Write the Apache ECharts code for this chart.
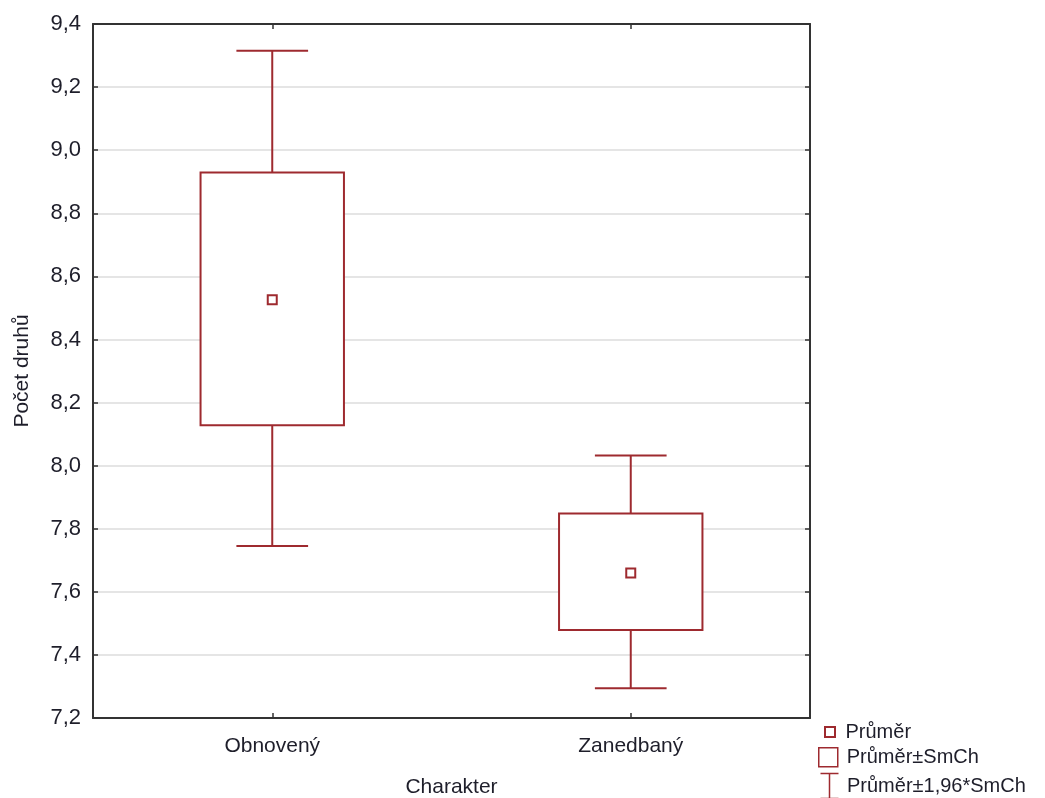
<!DOCTYPE html>
<html>
<head>
<meta charset="utf-8">
<script src="https://cdn.jsdelivr.net/npm/echarts@6/dist/echarts.min.js"></script>
<style>html,body{margin:0;padding:0;background:#fff}#c{width:1045px;height:798px}</style>
</head>
<body>
<div id="c"></div>
<script>
var categories = ['Obnovený', 'Zanedbaný'];
var meanValues = [8.526, 7.660];
var seLow = [8.128, 7.479];
var seHigh = [8.929, 7.848];
var ciLow = [7.745, 7.294];
var ciHigh = [9.315, 8.032];

var RED = '#9e2a2f';
var TXT = '#1e1e2a';
var FONT = 'Liberation Sans, Arial, sans-serif';

var chart = echarts.init(document.getElementById('c'));

var boxData = categories.map(function (c, i) { return [i, seLow[i], seHigh[i]]; });
var whiskerData = categories.map(function (c, i) { return [i, ciLow[i], ciHigh[i], seLow[i], seHigh[i]]; });
var meanData = categories.map(function (c, i) { return [i, meanValues[i]]; });

function fmtY(v) { return v.toFixed(1).replace('.', ','); }

var legText = { fontSize: 20, color: TXT, fontFamily: FONT };

var option = {
  animation: false,
  backgroundColor: '#fff',
  grid: { left: 93, right: 235, top: 24, bottom: 80, show: false, outerBoundsMode: 'none', containLabel: false },
  legend: [
    { data: ['Průměr'], orient: 'vertical', left: 824, top: 722, padding: 0, itemWidth: 21, itemHeight: 10, itemGap: 0,
      icon: 'path://M0,0H10V10H0Z', textStyle: legText,
      itemStyle: { color: '#fff', borderColor: RED, borderWidth: 2 } },
    { data: ['Průměr±SmCh'], orient: 'vertical', left: 818, top: 747, padding: 0, itemWidth: 19, itemHeight: 19, itemGap: 0,
      icon: 'rect', textStyle: Object.assign({}, legText, { padding: [0, 0, 0, 4] }),
      itemStyle: { color: '#fff', borderColor: RED, borderWidth: 1.5 } },
    { data: ['Průměr±1,96*SmCh'], orient: 'vertical', left: 818, top: 771, padding: 0, itemWidth: 19, itemHeight: 25, itemGap: 0,
      icon: 'path://M0,0H18M9,0V25M0,25H18', textStyle: Object.assign({}, legText, { padding: [0, 0, 6, 3] }),
      itemStyle: { color: 'none', borderColor: RED, borderWidth: 1.5 } }
  ],
  xAxis: [
    { type: 'category', data: categories, position: 'bottom',
      axisLine: { show: true, lineStyle: { color: '#333', width: 2 } },
      axisTick: { show: true, inside: true, alignWithLabel: true, length: 5, lineStyle: { color: '#333', width: 1.5 } },
      axisLabel: { color: TXT, fontSize: 21, fontFamily: FONT, margin: 18 },
      name: 'Charakter', nameLocation: 'middle', nameGap: 59,
      nameTextStyle: { color: TXT, fontSize: 21, fontFamily: FONT },
      splitLine: { show: false } },
    { type: 'category', data: categories, position: 'top',
      axisLine: { show: true, lineStyle: { color: '#333', width: 2 } },
      axisTick: { show: true, inside: true, alignWithLabel: true, length: 5, lineStyle: { color: '#333', width: 1.5 } },
      axisLabel: { show: false }, splitLine: { show: false } }
  ],
  yAxis: [
    { type: 'value', min: 7.2, max: 9.4, interval: 0.2, position: 'left',
      axisLine: { show: true, lineStyle: { color: '#333', width: 2 } },
      axisTick: { show: true, inside: true, length: 5, lineStyle: { color: '#333', width: 1.5 } },
      axisLabel: { color: TXT, fontSize: 22, fontFamily: FONT, margin: 12,
        formatter: function (v) { return fmtY(v); } },
      splitLine: { show: true, lineStyle: { color: '#dcdcdc', width: 1.5 } },
      name: 'Počet druhů', nameLocation: 'middle', nameGap: 60, nameRotate: 90,
      nameTextStyle: { color: TXT, fontSize: 21, fontFamily: FONT } },
    { type: 'value', min: 7.2, max: 9.4, interval: 0.2, position: 'right',
      axisLine: { show: true, lineStyle: { color: '#333', width: 2 } },
      axisTick: { show: true, inside: true, length: 5, lineStyle: { color: '#333', width: 1.5 } },
      axisLabel: { show: false }, splitLine: { show: false } }
  ],
  series: [
    {
      name: 'Průměr±1,96*SmCh', type: 'custom', xAxisIndex: 0, yAxisIndex: 0, z: 2,
      data: whiskerData,
      renderItem: function (params, api) {
        var x = api.value(0);
        var pLow = api.coord([x, api.value(1)]);
        var pHigh = api.coord([x, api.value(2)]);
        var pBL = api.coord([x, api.value(3)]);
        var pBH = api.coord([x, api.value(4)]);
        var band = api.size([1, 0])[0];
        var half = band * 0.1;
        var st = { stroke: RED, lineWidth: 2, fill: null };
        return { type: 'group', children: [
          { type: 'line', shape: { x1: pHigh[0], y1: pHigh[1], x2: pBH[0], y2: pBH[1] }, style: st },
          { type: 'line', shape: { x1: pLow[0], y1: pLow[1], x2: pBL[0], y2: pBL[1] }, style: st },
          { type: 'line', shape: { x1: pHigh[0] - half, y1: pHigh[1], x2: pHigh[0] + half, y2: pHigh[1] }, style: st },
          { type: 'line', shape: { x1: pLow[0] - half, y1: pLow[1], x2: pLow[0] + half, y2: pLow[1] }, style: st }
        ] };
      }
    },
    {
      name: 'Průměr±SmCh', type: 'custom', xAxisIndex: 0, yAxisIndex: 0, z: 3,
      data: boxData,
      renderItem: function (params, api) {
        var x = api.value(0);
        var pL = api.coord([x, api.value(1)]);
        var pH = api.coord([x, api.value(2)]);
        var band = api.size([1, 0])[0];
        var w = band * 0.4;
        return { type: 'rect', shape: { x: pL[0] - w / 2, y: pH[1], width: w, height: pL[1] - pH[1] },
          style: { fill: '#fff', stroke: RED, lineWidth: 2 } };
      }
    },
    {
      name: 'Průměr', type: 'scatter', xAxisIndex: 0, yAxisIndex: 0, z: 4,
      data: meanData, symbol: 'rect', symbolSize: 9,
      itemStyle: { color: '#fff', borderColor: RED, borderWidth: 2, opacity: 1 }
    }
  ]
};
chart.setOption(option);
</script>
</body>
</html>
